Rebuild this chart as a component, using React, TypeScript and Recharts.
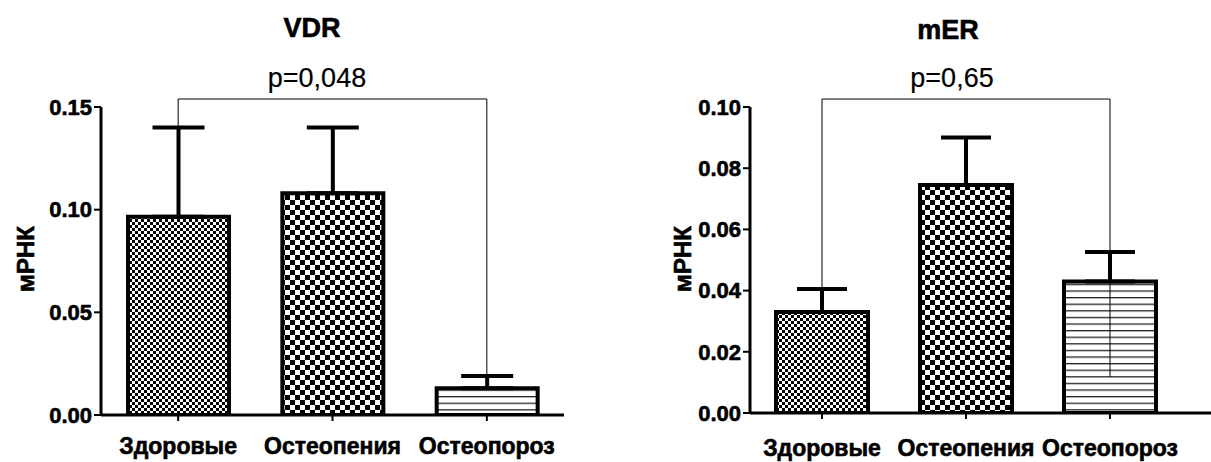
import React from 'react';
import { BarChart, Bar, XAxis, YAxis, Cell, ErrorBar, ReferenceLine } from 'recharts';

const categories = ['Здоровые', 'Остеопения', 'Остеопороз'];
const vdrMean = [0.0965, 0.108, 0.013];
const vdrUpper = [0.14, 0.14, 0.019];
const merMean = [0.033, 0.0745, 0.043];
const merUpper = [0.0405, 0.09, 0.0526];
const vdrTicks = [0, 0.05, 0.1, 0.15];
const merTicks = [0, 0.02, 0.04, 0.06, 0.08, 0.1];
const vdrBracket = 0.1539;
const merBracket = 0.1026;
const merInnerLow = 0.0118;
const patterns = ['url(#chkFine)', 'url(#chkCoarse)', 'url(#hLines)'];

const vdrData = categories.map((c, i) => ({ name: c, v: vdrMean[i], err: [0, vdrUpper[i] - vdrMean[i]] }));
const merData = categories.map((c, i) => ({ name: c, v: merMean[i], err: [0, merUpper[i] - merMean[i]] }));

const FONT = '"Liberation Sans", Arial, Helvetica, sans-serif';
const yTickStyle = { fontFamily: FONT, fontSize: 22, fontWeight: 700, fill: '#000', stroke: '#000', strokeWidth: 0.6 };
const xTickStyle = { fontFamily: FONT, fontSize: 23, fontWeight: 700, fill: '#000', stroke: '#000', strokeWidth: 0.6 };

const Patterns = () => (
  <svg width={0} height={0} style={{ position: 'absolute' }}>
    <defs>
      <pattern id="chkFine" width={6} height={6} patternUnits="userSpaceOnUse">
        <rect width={6} height={6} fill="#fff" />
        <rect x={0} y={0} width={3} height={3} fill="#000" />
        <rect x={3} y={3} width={3} height={3} fill="#000" />
      </pattern>
      <pattern id="chkCoarse" width={10} height={10} patternUnits="userSpaceOnUse">
        <rect width={10} height={10} fill="#fff" />
        <rect x={0} y={0} width={5} height={5} fill="#000" />
        <rect x={5} y={5} width={5} height={5} fill="#000" />
      </pattern>
      <pattern id="hLines" width={10} height={6.6} patternUnits="userSpaceOnUse">
        <rect width={10} height={6.6} fill="#fff" />
        <rect x={0} y={0} width={10} height={1.3} fill="#222" />
      </pattern>
    </defs>
  </svg>
);

const textDiv = (text: string, cx: number, cy: number, size: number, bold: boolean) => (
  <div
    style={{
      position: 'absolute',
      left: cx - 150,
      top: cy - size * 0.6,
      width: 300,
      textAlign: 'center',
      fontFamily: FONT,
      fontSize: size,
      fontWeight: bold ? 700 : 400,
      lineHeight: `${size * 1.2}px`,
      color: '#000',
      whiteSpace: 'nowrap',
      WebkitTextStroke: bold ? '0.6px #000' : '0.2px #000',
    }}
  >
    {text}
  </div>
);

const yLabel = (cx: number, cy: number) => (
  <div
    style={{
      position: 'absolute',
      left: cx - 60,
      top: cy - 14,
      width: 120,
      textAlign: 'center',
      fontFamily: FONT,
      fontSize: 24,
      fontWeight: 700,
      lineHeight: '28px',
      transform: 'rotate(-90deg)',
      color: '#000',
      WebkitTextStroke: '0.6px #000',
    }}
  >
    мРНК
  </div>
);

export default function App() {
  return (
    <div style={{ position: 'absolute', left: 0, top: 0, width: 1211, height: 462, background: '#fff', overflow: 'hidden' }}>
      <Patterns />
      <div style={{ position: 'absolute', left: 0, top: 0 }}>
        <BarChart width={600} height={462} data={vdrData} margin={{ top: 107, right: 36, bottom: 0, left: 0 }}>
          <XAxis
            dataKey="name"
            height={47}
            axisLine={{ stroke: '#000', strokeWidth: 3 }}
            tickLine={{ stroke: '#000', strokeWidth: 2 }}
            tickSize={6}
            tickMargin={17}
            tick={xTickStyle}
            interval={0}
          />
          <YAxis
            width={101}
            domain={[0, 0.15]}
            ticks={vdrTicks}
            tickFormatter={(v: number) => v.toFixed(2)}
            axisLine={{ stroke: '#000', strokeWidth: 3 }}
            tickLine={{ stroke: '#000', strokeWidth: 2 }}
            tickSize={7}
            tickMargin={2}
            tick={yTickStyle}
            allowDataOverflow
          />
          <Bar dataKey="v" barSize={101} stroke="#000" strokeWidth={4} isAnimationActive={false}>
            {vdrData.map((d, i) => (
              <Cell key={d.name} fill={patterns[i]} />
            ))}
            <ErrorBar dataKey="err" width={26} strokeWidth={4} stroke="#000" direction="y" />
          </Bar>
          <ReferenceLine
            ifOverflow="visible"
            stroke="#000"
            strokeWidth={1}
            segment={[{ x: categories[0], y: vdrBracket }, { x: categories[2], y: vdrBracket }]}
          />
          <ReferenceLine
            ifOverflow="visible"
            stroke="#000"
            strokeWidth={1}
            segment={[{ x: categories[0], y: vdrBracket }, { x: categories[0], y: vdrUpper[0] }]}
          />
          <ReferenceLine
            ifOverflow="visible"
            stroke="#000"
            strokeWidth={1}
            segment={[{ x: categories[2], y: vdrBracket }, { x: categories[2], y: vdrUpper[2] }]}
          />
        </BarChart>
      </div>
      <div style={{ position: 'absolute', left: 650, top: 0 }}>
        <BarChart width={561} height={462} data={merData} margin={{ top: 107, right: 0, bottom: 0, left: 0 }}>
          <XAxis
            dataKey="name"
            height={49}
            padding={{ left: 0, right: 29 }}
            axisLine={{ stroke: '#000', strokeWidth: 3 }}
            tickLine={{ stroke: '#000', strokeWidth: 2 }}
            tickSize={6}
            tickMargin={21}
            tick={xTickStyle}
            interval={0}
          />
          <YAxis
            width={100}
            domain={[0, 0.1]}
            ticks={merTicks}
            tickFormatter={(v: number) => v.toFixed(2)}
            axisLine={{ stroke: '#000', strokeWidth: 3 }}
            tickLine={{ stroke: '#000', strokeWidth: 2 }}
            tickSize={7}
            tickMargin={2}
            tick={yTickStyle}
            allowDataOverflow
          />
          <Bar dataKey="v" barSize={92} stroke="#000" strokeWidth={4} isAnimationActive={false}>
            {merData.map((d, i) => (
              <Cell key={d.name} fill={patterns[i]} />
            ))}
            <ErrorBar dataKey="err" width={25} strokeWidth={4} stroke="#000" direction="y" />
          </Bar>
          <ReferenceLine
            ifOverflow="visible"
            stroke="#000"
            strokeWidth={1}
            segment={[{ x: categories[0], y: merBracket }, { x: categories[2], y: merBracket }]}
          />
          <ReferenceLine
            ifOverflow="visible"
            stroke="#000"
            strokeWidth={1}
            segment={[{ x: categories[0], y: merBracket }, { x: categories[0], y: merUpper[0] }]}
          />
          <ReferenceLine
            ifOverflow="visible"
            stroke="#000"
            strokeWidth={1}
            segment={[{ x: categories[2], y: merBracket }, { x: categories[2], y: merInnerLow }]}
          />
        </BarChart>
      </div>
      {textDiv('VDR', 312, 28, 27, true)}
      {textDiv('p=0,048', 317, 78, 27, false)}
      {textDiv('mER', 948, 30, 27, true)}
      {textDiv('p=0,65', 952, 78, 27, false)}
      {yLabel(26, 259)}
      {yLabel(683, 259)}
    </div>
  );
}
